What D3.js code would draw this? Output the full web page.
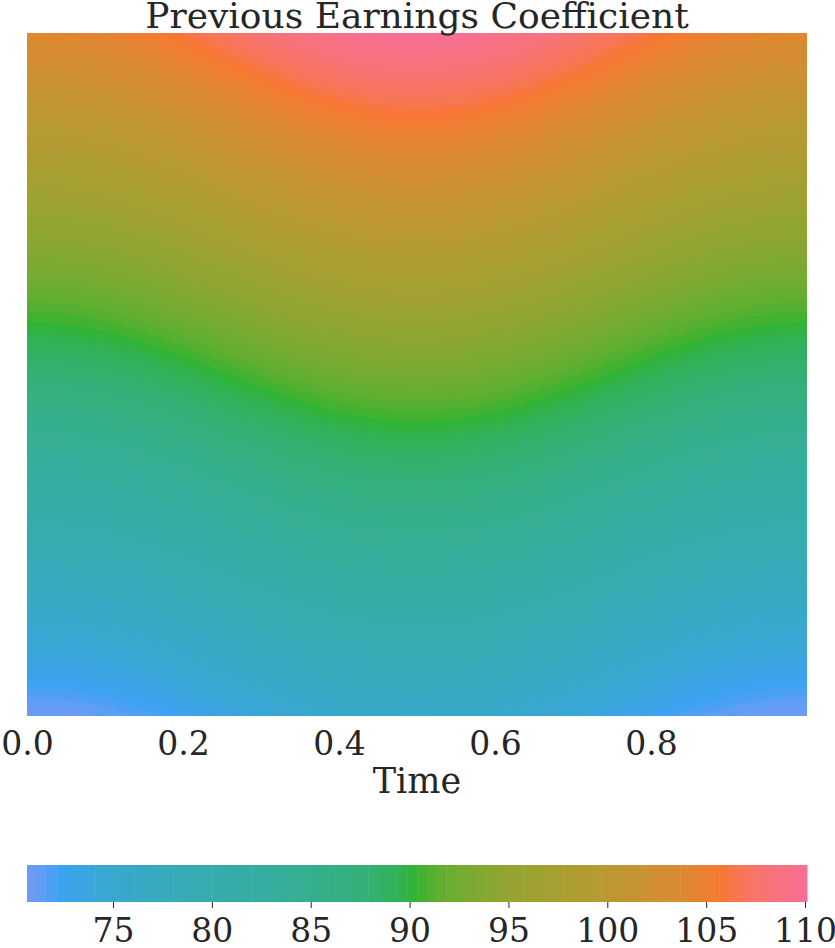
<!DOCTYPE html>
<html>
<head>
<meta charset="utf-8">
<script src="https://cdn.jsdelivr.net/npm/d3@7"></script>
<style>
  html, body { margin: 0; padding: 0; background: #ffffff; }
  svg { display: block; }
  text { font-family: "DejaVu Serif", serif; fill: #262626; }
</style>
</head>
<body>
<svg id="chart" width="835" height="948"></svg>
<script>
// ---------------- DATA ----------------
const chartTitle = "Previous Earnings Coefficient";
const xLabel = "Time";
const timePoints = [0, 0.05, 0.10, 0.15, 0.20, 0.25, 0.30, 0.35, 0.40, 0.45, 0.50,
                    0.55, 0.60, 0.65, 0.70, 0.75, 0.80, 0.85, 0.90, 0.95, 1.00];
// relative position on the (unlabelled) vertical axis, top row first
const rowPositions = [1.0, 0.9, 0.8, 0.7, 0.6, 0.5, 0.4, 0.3, 0.2, 0.1, 0.0];
const coefficientGrid = [
  [104.10,104.25,104.67,105.34,106.17,107.10,108.03,108.86,109.53,109.95,110.10,109.95,109.53,108.86,108.03,107.10,106.17,105.34,104.67,104.25,104.10],
  [100.85,100.99,101.40,102.04,102.84,103.73,104.61,105.41,106.05,106.46,106.60,106.46,106.05,105.41,104.61,103.73,102.84,102.04,101.40,100.99,100.85],
  [97.61,97.74,98.14,98.74,99.51,100.36,101.21,101.98,102.58,102.98,103.11,102.98,102.58,101.98,101.21,100.36,99.51,98.74,98.14,97.74,97.61],
  [94.36,94.49,94.86,95.44,96.17,96.99,97.80,98.53,99.11,99.48,99.61,99.48,99.11,98.53,97.80,96.99,96.17,95.44,94.86,94.49,94.36],
  [91.11,91.23,91.59,92.15,92.85,93.64,94.42,95.12,95.68,96.04,96.16,96.04,95.68,95.12,94.42,93.64,92.85,92.15,91.59,91.23,91.11],
  [87.74,87.86,88.21,88.76,89.45,90.22,90.98,91.67,92.22,92.57,92.69,92.57,92.22,91.67,90.98,90.22,89.45,88.76,88.21,87.86,87.74],
  [84.32,84.44,84.79,85.34,86.03,86.80,87.56,88.25,88.80,89.15,89.27,89.15,88.80,88.25,87.56,86.80,86.03,85.34,84.79,84.44,84.32],
  [80.90,81.02,81.38,81.93,82.63,83.40,84.17,84.87,85.42,85.78,85.90,85.78,85.42,84.87,84.17,83.40,82.63,81.93,81.38,81.02,80.90],
  [77.48,77.60,77.97,78.53,79.24,80.03,80.82,81.53,82.09,82.46,82.58,82.46,82.09,81.53,80.82,80.03,79.24,78.53,77.97,77.60,77.48],
  [74.07,74.20,74.57,75.14,75.87,76.67,77.47,78.20,78.77,79.14,79.27,79.14,78.77,78.20,77.47,76.67,75.87,75.14,74.57,74.20,74.07],
  [70.65,70.78,71.16,71.74,72.48,73.30,74.12,74.86,75.44,75.82,75.95,75.82,75.44,74.86,74.12,73.30,72.48,71.74,71.16,70.78,70.65]
];
const xTickValues = [0.0, 0.2, 0.4, 0.6, 0.8];
const colorbarTickValues = [75, 80, 85, 90, 95, 100, 105, 110];
const levelCount = 80;

// ---------------- HUSL (HSLuv) colour map ----------------
const hM = [
  [3.240969941904521, -1.537383177570093, -0.498610760293],
  [-0.96924363628087, 1.87596750150772, 0.041555057407175],
  [0.055630079696993, -0.20397695888897, 1.056971514242878]];
const refU = 0.19783000664283, refV = 0.46831999493879;
const kappa = 903.2962962, epsilon = 0.0088564516;
function getBounds(L) {
  const res = [];
  const sub1 = Math.pow(L + 16, 3) / 1560896;
  const sub2 = sub1 > epsilon ? sub1 : L / kappa;
  for (let c = 0; c < 3; c++) {
    const m1 = hM[c][0], m2 = hM[c][1], m3 = hM[c][2];
    for (let t = 0; t < 2; t++) {
      const top1 = (284517 * m1 - 94839 * m3) * sub2;
      const top2 = (838422 * m3 + 769860 * m2 + 731718 * m1) * L * sub2 - 769860 * t * L;
      const bottom = (632260 * m3 - 126452 * m2) * sub2 + 126452 * t;
      res.push([top1 / bottom, top2 / bottom]);
    }
  }
  return res;
}
function maxChroma(L, H) {
  const hr = H / 360 * Math.PI * 2;
  let mn = Infinity;
  for (const [m, b] of getBounds(L)) {
    const len = b / (Math.sin(hr) - m * Math.cos(hr));
    if (len >= 0) mn = Math.min(mn, len);
  }
  return mn;
}
function husl(H, S, L) {
  H = ((H % 360) + 360) % 360;
  const C = maxChroma(L, H) / 100 * S;
  const hr = H / 180 * Math.PI;
  const U = Math.cos(hr) * C, V = Math.sin(hr) * C;
  const Y = L <= 8 ? L / kappa : Math.pow((L + 16) / 116, 3);
  const vu = U / (13 * L) + refU, vv = V / (13 * L) + refV;
  const X = 0 - (9 * Y * vu) / ((vu - 4) * vv - vu * vv);
  const Z = (9 * Y - 15 * vv * Y - vv * X) / (3 * vv);
  const toS = c => c <= 0.0031308 ? 12.92 * c : 1.055 * Math.pow(c, 1 / 2.4) - 0.055;
  const rgb = hM.map(r => Math.max(0, Math.min(255, Math.round(255 * toS(r[0] * X + r[1] * Y + r[2] * Z)))));
  return d3.rgb(rgb[0], rgb[1], rgb[2]).formatHex();
}
const hueStart = -2, hueSpan = 258;
function cmap(p) { return husl(hueStart + (1 - p) * hueSpan, 89.1, 64.35); }

// ---------------- LAYOUT ----------------
const svg = d3.select("#chart");
const plot = {left: 27, right: 807, top: 33, bottom: 716};
const cbar = {left: 27, right: 807, top: 865, bottom: 902};

const xScale = d3.scaleLinear().domain([0, 1]).range([plot.left, plot.right]);
const yScale = d3.scaleLinear().domain([0, 1]).range([plot.bottom, plot.top]);

const allVals = coefficientGrid.flat();
const vMin = d3.min(allVals), vMax = d3.max(allVals);
const levels = d3.range(levelCount + 1).map(i => vMin + i * (vMax - vMin) / levelCount);
const norm = d3.scaleLinear().domain([vMin, vMax]).range([0, 1]);
const bandColor = i => cmap(norm((levels[i] + levels[i + 1]) / 2));

// resample grid for smooth contour rendering (cubic along time, linear along rows)
function cr(p0, p1, p2, p3, u) {
  return 0.5 * ((2 * p1) + (-p0 + p2) * u + (2 * p0 - 5 * p1 + 4 * p2 - p3) * u * u + (-p0 + 3 * p1 - 3 * p2 + p3) * u * u * u);
}
function rowAt(row, t) {
  const n = timePoints.length;
  let k = d3.bisectRight(timePoints, t) - 1;
  k = Math.max(0, Math.min(n - 2, k));
  const u = (t - timePoints[k]) / (timePoints[k + 1] - timePoints[k]);
  const g = i => row[Math.max(0, Math.min(n - 1, i))];
  return cr(g(k - 1), g(k), g(k + 1), g(k + 2), u);
}
function valueAt(t, f) {
  let r = 0;
  while (r < rowPositions.length - 2 && rowPositions[r + 1] > f) r++;
  const f0 = rowPositions[r], f1 = rowPositions[r + 1];
  const w = (f0 - f) / (f0 - f1);
  return rowAt(coefficientGrid[r], t) * (1 - w) + rowAt(coefficientGrid[r + 1], t) * w;
}
const nx = 197, ny = 172;
const grid = new Array(nx * ny);
for (let j = 0; j < ny; j++) {
  const f = 1 - j / (ny - 1);
  for (let i = 0; i < nx; i++) {
    grid[j * nx + i] = valueAt(i / (nx - 1), f);
  }
}
const contours = d3.contours().size([nx, ny]).thresholds(levels.slice(0, -1))(grid);
const path = d3.geoPath(d3.geoTransform({
  point: function (x, y) {
    this.stream.point(xScale((x - 0.5) / (nx - 1)), yScale(1 - (y - 0.5) / (ny - 1)));
  }
}));

svg.append("clipPath").attr("id", "plotclip")
  .append("rect").attr("x", plot.left).attr("y", plot.top)
  .attr("width", plot.right - plot.left).attr("height", plot.bottom - plot.top);

const gPlot = svg.append("g").attr("clip-path", "url(#plotclip)");
gPlot.append("rect").attr("x", plot.left).attr("y", plot.top)
  .attr("width", plot.right - plot.left).attr("height", plot.bottom - plot.top)
  .attr("fill", bandColor(0));
gPlot.selectAll("path.band").data(contours).join("path")
  .attr("class", "band")
  .attr("d", path)
  .attr("fill", (d, i) => bandColor(Math.min(i, levelCount - 1)))
  .attr("stroke", (d, i) => bandColor(Math.min(i, levelCount - 1)))
  .attr("stroke-width", 0.6);

// title
svg.append("text").attr("x", (plot.left + plot.right) / 2).attr("y", 28)
  .attr("text-anchor", "middle").attr("font-size", 36).text(chartTitle);

// x axis
const xAxis = svg.append("g").attr("transform", `translate(0,${plot.bottom})`)
  .call(d3.axisBottom(xScale).tickValues(xTickValues).tickFormat(d3.format(".1f")).tickSize(0));
xAxis.select(".domain").remove();
xAxis.selectAll("text").attr("font-family", "DejaVu Serif").attr("font-size", 33)
  .attr("fill", "#262626").attr("dy", null).attr("y", 39);

svg.append("text").attr("x", (plot.left + plot.right) / 2).attr("y", 793)
  .attr("text-anchor", "middle").attr("font-size", 35).text(xLabel);

// colorbar
const cScale = d3.scaleLinear().domain([vMin, vMax]).range([cbar.left, cbar.right]);
svg.append("g").selectAll("rect").data(d3.range(levelCount)).join("rect")
  .attr("x", i => cScale(levels[i]))
  .attr("width", i => cScale(levels[i + 1]) - cScale(levels[i]) + 0.5)
  .attr("y", cbar.top).attr("height", cbar.bottom - cbar.top)
  .attr("fill", i => bandColor(i));

const cAxis = svg.append("g").attr("transform", `translate(0,${cbar.bottom})`)
  .call(d3.axisBottom(cScale).tickValues(colorbarTickValues).tickFormat(d3.format("d")).tickSize(6));
cAxis.select(".domain").remove();
cAxis.selectAll("line").attr("stroke", "#262626").attr("stroke-width", 1);
cAxis.selectAll("text").attr("font-family", "DejaVu Serif").attr("font-size", 33)
  .attr("fill", "#262626").attr("dy", null).attr("y", 40);
</script>
</body>
</html>
